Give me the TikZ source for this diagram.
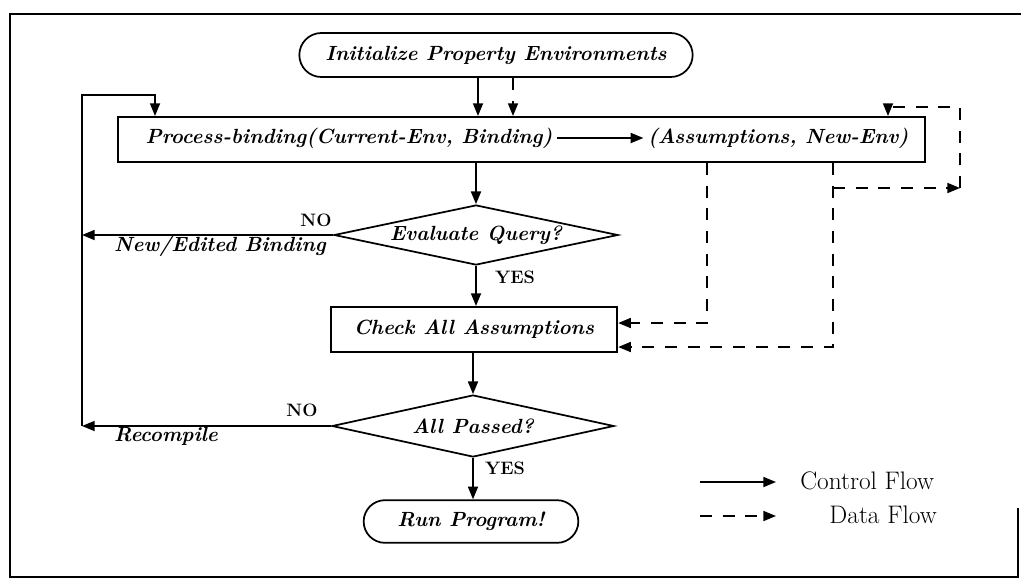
\documentclass[tikz,border=0pt]{standalone}
\usetikzlibrary{shapes.misc,shapes.geometric,arrows.meta}
\begin{document}
\begin{tikzpicture}[x=0.75pt,y=-0.75pt,
  lw/.style={line width=1.3pt},
  bi/.style={font=\fontsize{15.4}{18}\selectfont\bfseries\itshape},
  term/.style={rounded rectangle, draw, lw, bi, inner sep=0pt},
  procbox/.style={rectangle, draw, lw, bi, inner sep=0pt},
  decide/.style={diamond, draw, lw, bi, inner sep=0pt, aspect=4.7},
  ctrl/.style={lw, -{Triangle[length=9.5pt,width=7.5pt]}},
  data/.style={ctrl, dash pattern=on 9pt off 8pt},
  lbl/.style={font=\fontsize{13.5}{16}\selectfont\bfseries, inner sep=1pt},
  leg/.style={font=\fontsize{19}{22}\selectfont, inner sep=0pt}
]
\useasboundingbox (0,0) rectangle (1021,587);
% frame
\draw[lw] (1018,508) -- (1018,577) -- (10,577) -- (10,14) -- (1021,14);

% nodes
\node[term, minimum width=295pt, minimum height=33pt] (init) at (496,55) {Initialize Property Environments};
\node[procbox, minimum width=605pt, minimum height=34pt] (pb) at (521.5,139.5) {};
\node[bi, anchor=west] (pbl) at (141,138) {Process-binding(Current-Env, Binding)};
\node[bi, anchor=east] (pbr) at (913,138) {(Assumptions, New-Env)};
\node[decide, minimum width=213pt, minimum height=45pt] (eq) at (476,235) {\makebox[0pt]{Evaluate Query?}};
\node[procbox, minimum width=215pt, minimum height=34pt] (check) at (474,329.5) {Check All Assumptions};
\node[decide, minimum width=211.5pt, minimum height=46.5pt] (ap) at (473,426) {\makebox[0pt]{All Passed?}};
\node[term, minimum width=161pt, minimum height=32pt] (run) at (471,521.5) {Run Program!};

% labels
\node[lbl] (no1) at (316,220) {NO};
\node[bi] (neb) at (220,246) {New/Edited Binding};
\node[lbl] (yes1) at (515,277) {YES};
\node[lbl] (no2) at (302,410) {NO};
\node[bi] (rec) at (166,436) {Recompile};
\node[lbl] (yes2) at (505,468) {YES};

% helper coordinates
\coordinate (c1) at (478,0);
\coordinate (c2) at (513,0);
\coordinate (cL) at (82,95);
\coordinate (cT) at (155,0);
\coordinate (d1) at (707,323);
\coordinate (d2) at (833,347);
\coordinate (d3) at (960,188);
\coordinate (d4) at (960,107);
\coordinate (d5) at (888,107);

% control flow
\draw[ctrl] (init.south -| c1) -- (pb.north -| c1);
\draw[ctrl] (pbl.east) -- (pbr.west);
\draw[ctrl] (eq.north |- pb.south) -- (eq.north);
\draw[ctrl] (eq.south) -- (eq.south |- check.north);
\draw[ctrl] (ap.north |- check.south) -- (ap.north);
\draw[ctrl] (ap.south) -- (ap.south |- run.north);
\draw[ctrl] (eq.west) -- (eq.west -| cL);
\draw[ctrl] (ap.west) -- (ap.west -| cL);
\draw[ctrl] (ap.west -| cL) -- (cL) -| (pb.north -| cT);

% data flow
\draw[data] (init.south -| c2) -- (pb.north -| c2);
\draw[data] (pb.south -| d1) -- (d1) -- (check.east |- d1);
\draw[data] (pb.south -| d2) -- (d2) -- (check.east |- d2);
\draw[data] (d2 |- d3) -- (d3);
\draw[data] (d3) -- (d4) -- (d5) -- (pb.north -| d5);

% legend
\coordinate (lg1) at (700,482);
\coordinate (lg2) at (776,482);
\coordinate (lg3) at (700,516);
\coordinate (lg4) at (776,516);
\node[leg, anchor=west] (cf) at (800,481) {Control Flow};
\node[leg, anchor=east] (df) at (937,515) {Data Flow};
\draw[ctrl] (lg1) -- (lg2);
\draw[data] (lg3) -- (lg4);
\end{tikzpicture}
\end{document}
